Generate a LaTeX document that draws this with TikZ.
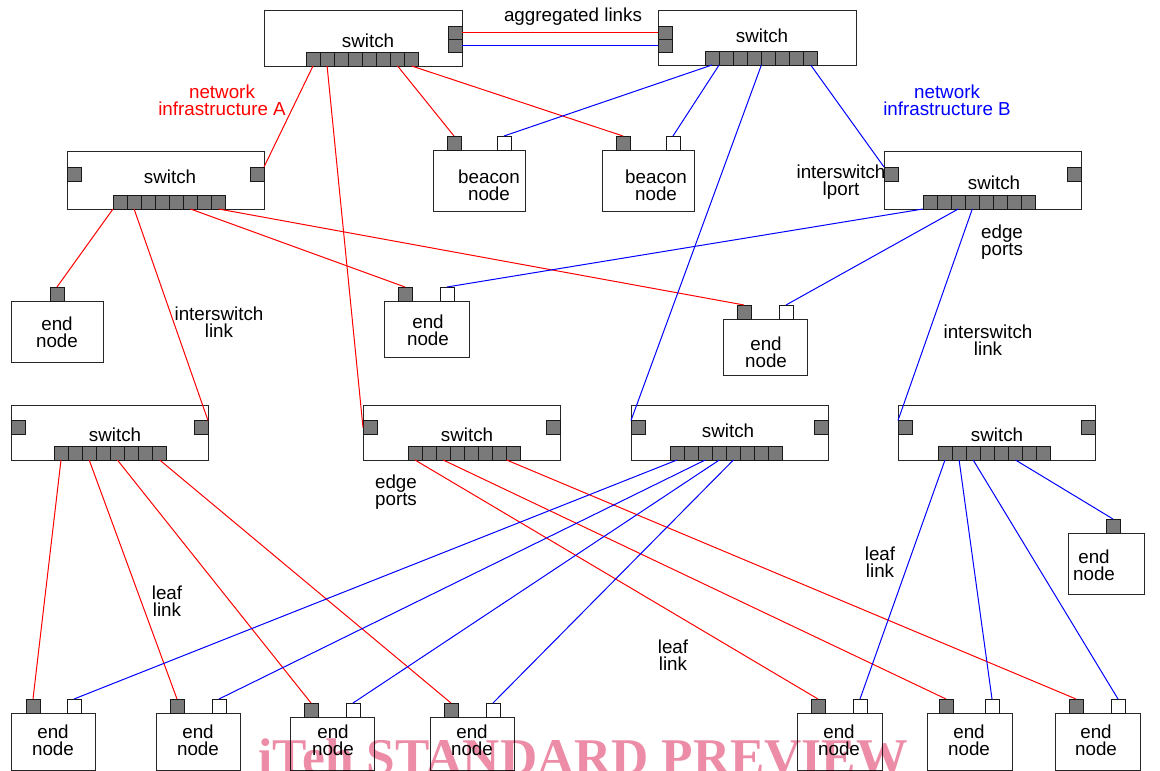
\documentclass[tikz,border=0pt]{standalone}
\usepackage{fontspec}
\setmainfont{Liberation Sans}
\newfontfamily\wmfont{Liberation Serif}
\definecolor{portgray}{HTML}{7A7A7A}
\definecolor{wmpink}{RGB}{236,140,166}
\tikzset{
  box/.style={draw=black!85, line width=1pt, fill=white, inner sep=0pt, outer sep=0pt, anchor=north west},
  gport/.style={draw=black!90, line width=0.9pt, fill=portgray, minimum width=14pt, minimum height=14pt, inner sep=0pt, outer sep=0pt},
  sport/.style={gport, minimum height=13pt},
  wport/.style={gport, fill=white},
  txt/.style={font=\fontsize{18.8}{17}\selectfont, align=center, inner sep=0pt},
  redl/.style={draw=red, line width=1pt},
  bluel/.style={draw=blue, line width=1pt},
}
% switch: name, x, y, w, h, port row start
\newcommand{\mksw}[6]{%
  \node[box, minimum width=#4pt, minimum height=#5pt] (#1) at (#2,#3) {};
  \foreach \k in {1,...,8}
    \node[gport, anchor=south west] (#1p\k) at ({#6+14.1*(\k-1)},{#3+#5}) {};
}
% end node: name, x, y, w, h, gray port offset
\newcommand{\mken}[6]{%
  \node[box, minimum width=#4pt, minimum height=#5pt] (#1) at (#2,#3) {};
  \node[gport, anchor=south west] (#1g) at ({#2+#6},#3) {};
}
\newcommand{\mkwp}[3]{\node[wport, anchor=south west] (#1w) at (#2,#3) {};}
\begin{document}
\begin{tikzpicture}[x=1pt,y=-1pt]
\useasboundingbox (0,0) rectangle (1160,771);
% ---------- switches ----------
\mksw{s1}{264}{10}{198}{56}{306}
\node[sport] (s1Ru) at (455,32.5) {};
\node[sport] (s1Rl) at (455,45.5) {};
\node[txt] (s1t) at (368,41) {switch};
\mksw{s2}{658}{10}{198}{55}{705}
\node[sport] (s2Lu) at (665,32.5) {};
\node[sport] (s2Ll) at (665,45.5) {};
\node[txt] (s2t) at (762,36) {switch};
\mksw{s3}{67}{151}{197}{58}{113}
\node[gport] (s3L) at (74,174) {};
\node[gport] (s3R) at (257,174) {};
\node[txt] (s3t) at (170,177) {switch};
\mksw{s4}{884}{151}{197}{58}{923}
\node[gport] (s4L) at (891,174) {};
\node[gport] (s4R) at (1074,174) {};
\node[txt] (s4t) at (994,183) {switch};
\mksw{s5}{11}{405}{197}{55}{54}
\node[gport] (s5L) at (18,427.5) {};
\node[gport] (s5R) at (201,427.5) {};
\node[txt] (s5t) at (115,435) {switch};
\mksw{s6}{363}{405}{197}{55}{408}
\node[gport] (s6L) at (370,427.5) {};
\node[gport] (s6R) at (553,427.5) {};
\node[txt] (s6t) at (467,435) {switch};
\mksw{s7}{631}{405}{197}{55}{670}
\node[gport] (s7L) at (638,427.5) {};
\node[gport] (s7R) at (821,427.5) {};
\node[txt] (s7t) at (728,431) {switch};
\mksw{s8}{898}{405}{197}{55}{938}
\node[gport] (s8L) at (905,427.5) {};
\node[gport] (s8R) at (1088,427.5) {};
\node[txt] (s8t) at (997,435) {switch};
% ---------- beacon and end nodes ----------
\mken{bc1}{433}{150}{92}{61}{14} \mkwp{bc1}{497}{150}
\node[txt] (bc1t) at (489,185) {beacon\\node};
\mken{bc2}{602}{150}{92}{61}{14} \mkwp{bc2}{666}{150}
\node[txt] (bc2t) at (656,185) {beacon\\node};
\mken{e1}{11}{301}{92}{61}{39}
\node[txt] (e1t) at (57,332) {end\\node};
\mken{e2}{384}{301}{85}{56}{14} \mkwp{e2}{440}{301}
\node[txt] (e2t) at (428,330) {end\\node};
\mken{e3}{723}{319}{84}{56}{14} \mkwp{e3}{779}{319}
\node[txt] (e3t) at (766,352) {end\\node};
\mken{e4}{1068}{533}{76}{61}{38}
\node[txt] (e4t) at (1094,565) {end\\node};
\mken{b1}{11}{713}{84}{57}{15} \mkwp{b1}{67}{713}
\node[txt] (b1t) at (53,740) {end\\node};
\mken{b2}{156}{713}{84}{57}{14} \mkwp{b2}{212}{713}
\node[txt] (b2t) at (198,740) {end\\node};
\mken{b3}{290}{717}{84}{53}{14} \mkwp{b3}{346}{717}
\node[txt] (b3t) at (333,740) {end\\node};
\mken{b4}{430}{717}{84}{53}{14} \mkwp{b4}{486}{717}
\node[txt] (b4t) at (472,740) {end\\node};
\mken{b5}{797}{713}{85}{57}{14} \mkwp{b5}{853}{713}
\node[txt] (b5t) at (839,740) {end\\node};
\mken{b6}{927}{713}{85}{57}{12} \mkwp{b6}{985}{713}
\node[txt] (b6t) at (969,740) {end\\node};
\mken{b7}{1055}{713}{85}{57}{14} \mkwp{b7}{1111}{713}
\node[txt] (b7t) at (1096,740) {end\\node};
% ---------- red links (infrastructure A) ----------
\draw[redl] (s1Ru.east) -- (s2Lu.west);
\draw[redl] (s1p1.south) -- (s3R.north east);
\draw[redl] (s1p2.south) -- (s6L.west);
\draw[redl] (s1p7.south) -- (bc1g.north);
\draw[redl] (s1p8.south) -- (bc2g.north);
\draw[redl] (s3p1.south west) -- (e1g.north);
\draw[redl] (s3p2.south) -- (s5R.north east);
\draw[redl] (s3p6.south) -- (e2g.north);
\draw[redl] (s3p8.south) -- (e3g.north);
\draw[redl] (s5p1.south) -- (b1g.north);
\draw[redl] (s5p3.south) -- (b2g.north);
\draw[redl] (s5p5.south) -- (b3g.north);
\draw[redl] (s5p8.south) -- (b4g.north);
\draw[redl] (s6p1.south) -- (b5g.north);
\draw[redl] (s6p3.south) -- (b6g.north);
\draw[redl] (s6p7.south east) -- (b7g.north);
% ---------- blue links (infrastructure B) ----------
\draw[bluel] (s1Rl.east) -- (s2Ll.west);
\draw[bluel] (s2p1.south) -- (bc1w.north);
\draw[bluel] (s2p2.south west) -- (bc2w.north);
\draw[bluel] (s2p5.south west) -- (s7L.north west);
\draw[bluel] (s2p8.south) -- (s4L.north west);
\draw[bluel] (s4p1.south west) -- (e2w.north);
\draw[bluel] (s4p3.south) -- (e3w.north);
\draw[bluel] (s4p4.south) -- (s8L.north west);
\draw[bluel] (s7p1.south) -- (b1w.north);
\draw[bluel] (s7p3.south) -- (b2w.north);
\draw[bluel] (s7p4.south) -- (b3w.north);
\draw[bluel] (s7p5.south) -- (b4w.north);
\draw[bluel] (s8p1.south) -- (b5w.north);
\draw[bluel] (s8p2.south) -- (b6w.north);
\draw[bluel] (s8p3.south) -- (b7w.north);
\draw[bluel] (s8p6.south) -- (e4g.north);
% ---------- labels ----------
\node[txt] (agg) at (573,17) {aggregated links};
\node[txt, text=red] (infA) at (222,100) {network\\infrastructure A};
\node[txt, text=blue] (infB) at (947,100) {network\\infrastructure B};
\node[txt] (isp) at (841,182) {interswitch\\lport};
\node[txt] (ep1) at (1002,242) {edge\\ports};
\node[txt] (isl1) at (219,322) {interswitch\\link};
\node[txt] (isl2) at (988,340) {interswitch\\link};
\node[txt] (ep2) at (396,492) {edge\\ports};
\node[txt] (ll1) at (167,601) {leaf\\link};
\node[txt] (ll2) at (673,655) {leaf\\link};
\node[txt] (ll3) at (880,562) {leaf\\link};
% ---------- watermark ----------
\begin{scope}[blend mode=multiply]
\node[font=\wmfont\bfseries\fontsize{51.5}{53}\selectfont, text=wmpink, anchor=base west, inner sep=0pt] (wm) at (258,774) {iTeh STANDARD PREVIEW};
\end{scope}
\end{tikzpicture}
\end{document}
